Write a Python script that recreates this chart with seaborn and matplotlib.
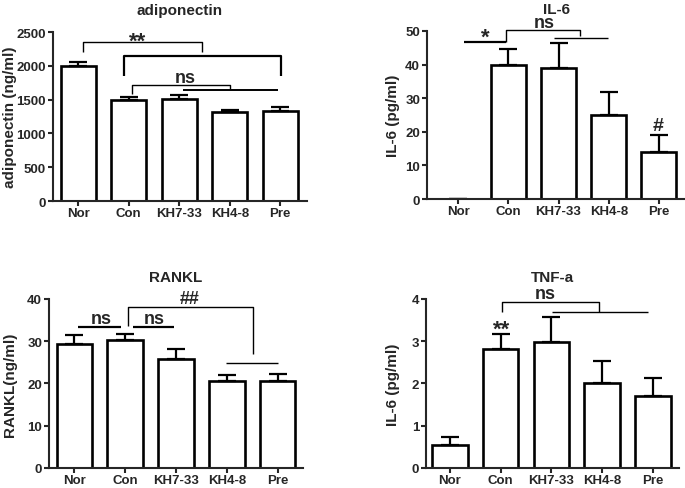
import matplotlib
matplotlib.use("Agg")
import matplotlib.pyplot as plt
import seaborn as sns

groups = ["Nor", "Con", "KH7-33", "KH4-8", "Pre"]

adipo_mean = [2000, 1495, 1510, 1310, 1335]
adipo_err = [55, 45, 60, 35, 50]

il6_mean = [0, 40, 39, 25, 14]
il6_err = [0, 4.6, 7.5, 6.9, 4.9]

rankl_mean = [29.3, 30.2, 25.7, 20.6, 20.6]
rankl_err = [2.1, 1.4, 2.4, 1.3, 1.6]

tnf_mean = [0.54, 2.81, 2.98, 2.0, 1.70]
tnf_err = [0.2, 0.35, 0.59, 0.52, 0.44]

sns.set_style("ticks")
plt.rcParams["font.family"] = ["Liberation Sans", "DejaVu Sans"]
plt.rcParams["font.weight"] = "bold"

fig = plt.figure(figsize=(6.85, 4.89), dpi=100)


def bar_panel(rect, means, errs, title, ylabel, ymax, ystep, xlim, ylab_x):
    ax = fig.add_axes(rect)
    sns.barplot(x=groups, y=means, color="white", edgecolor="black",
                linewidth=1.9, width=0.7, ax=ax)
    ax.errorbar(range(len(groups)), means, yerr=[[0] * len(errs), errs],
                fmt="none", ecolor="black", elinewidth=1.6, capsize=6.8,
                capthick=1.6)
    ax.set_ylim(0, ymax)
    ax.set_xlim(*xlim)
    ax.set_yticks([i * ystep for i in range(int(round(ymax / ystep)) + 1)])
    ax.set_title(title, fontsize=11, fontweight="bold", pad=13)
    ax.set_ylabel(ylabel, fontsize=11, fontweight="bold")
    ax.yaxis.set_label_coords(ylab_x, 0.5)
    sns.despine(ax=ax)
    for s in ["left", "bottom"]:
        ax.spines[s].set_linewidth(1.5)
    ax.tick_params(axis="both", width=1.5, length=3.5, labelsize=9.5, pad=1.5)
    ax.tick_params(axis="x", pad=1)
    for lab in ax.get_xticklabels() + ax.get_yticklabels():
        lab.set_fontweight("bold")
    return ax


def line(ax, xs, ys, lw=1.0):
    ax.plot(xs, ys, color="black", lw=lw, clip_on=False, solid_capstyle="butt")


def label(ax, x, y, s, size=13):
    ax.text(x, y, s, ha="center", va="center", fontsize=size,
            fontweight="bold", clip_on=False)


# adiponectin
ax1 = bar_panel([0.0774, 0.5869, 0.3708, 0.3456], adipo_mean, adipo_err,
                "adiponectin", "adiponectin (ng/ml)", 2500, 500, (-0.5, 4.53),
                -0.14)
line(ax1, [0.1, 0.1, 2.46, 2.46], [2204, 2352, 2352, 2204])
label(ax1, 1.17, 2370, "**", 16)
line(ax1, [0.91, 0.91, 4.02, 4.02], [1850, 2145, 2145, 1850], lw=1.6)
line(ax1, [1.07, 1.07, 3.01, 3.01], [1583, 1716, 1716, 1650])
line(ax1, [2.08, 3.96], [1642, 1642], lw=1.4)
label(ax1, 2.12, 1834, "ns")

# IL-6
ax2 = bar_panel([0.6234, 0.591, 0.3766, 0.3436], il6_mean, il6_err,
                "IL-6", "IL-6 (pg/ml)", 50, 10, (-0.62, 4.52), -0.105)
line(ax2, [0.12, 0.955], [46.7, 46.7], lw=1.6)
label(ax2, 0.54, 48.0, "*", 16)
line(ax2, [0.955, 0.955, 2.43, 2.43], [46.7, 50.3, 50.3, 48.5])
line(ax2, [1.91, 2.985], [47.9, 47.9])
label(ax2, 1.71, 52.4, "ns")
label(ax2, 3.98, 21.9, "#", 14)

# RANKL
ax3 = bar_panel([0.0715, 0.041, 0.3708, 0.3456], rankl_mean, rankl_err,
                "RANKL", "RANKL(ng/ml)", 40, 10, (-0.5, 4.5), -0.126)
line(ax3, [0.08, 0.91], [33.4, 33.4], lw=1.6)
label(ax3, 0.53, 35.4, "ns")
line(ax3, [1.15, 1.96], [33.4, 33.4], lw=1.6)
label(ax3, 1.58, 35.4, "ns")
line(ax3, [1.05, 1.05, 3.52, 3.52], [33.6, 38.1, 38.1, 27.0])
label(ax3, 2.27, 40.0, "##", 13)
line(ax3, [2.98, 4.01], [24.9, 24.9])

# TNF-a
ax4 = bar_panel([0.6219, 0.041, 0.3693, 0.3456], tnf_mean, tnf_err,
                "TNF-a", "IL-6 (pg/ml)", 4, 1, (-0.47, 4.51), -0.103)
label(ax4, 1.02, 3.28, "**", 16)
line(ax4, [1.02, 1.02, 2.94, 2.94], [3.69, 3.93, 3.93, 3.69])
line(ax4, [2.01, 3.90], [3.69, 3.69])
label(ax4, 1.87, 4.12, "ns")

fig.savefig("out.png", dpi=100)
